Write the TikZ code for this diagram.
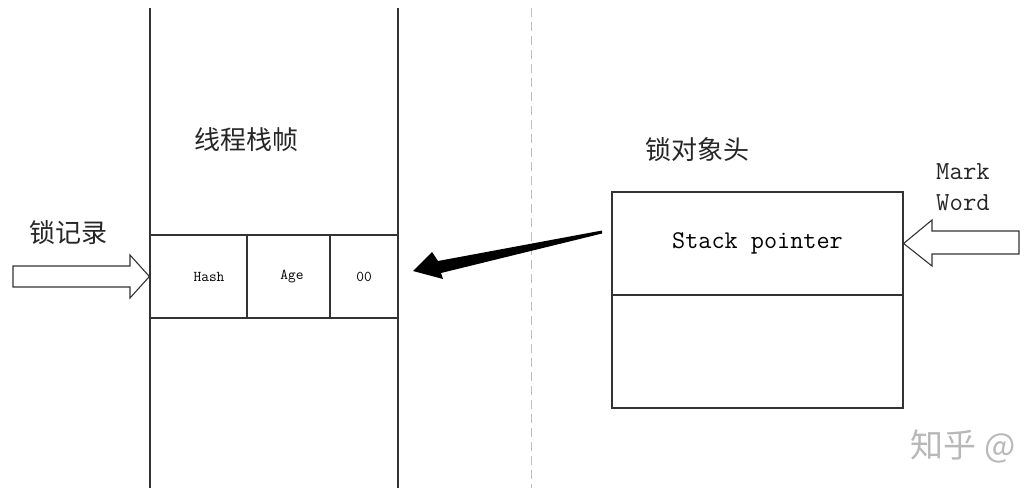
\documentclass[tikz,border=0pt]{standalone}
\usepackage{fontspec}
\newfontfamily\cjk{Noto Sans CJK SC}
\tikzset{
  ln/.style={draw=black!80, line width=1.2pt},
  cell/.style={ln, rectangle, inner sep=0pt, anchor=center, font=\ttfamily\fontsize{15}{17}\selectfont},
  bigbox/.style={ln, rectangle, inner sep=0pt, anchor=center, font=\ttfamily\fontsize{25.5}{27}\selectfont},
  cjklabel/.style={font=\cjk\fontsize{26}{28}\selectfont, text=black!85, inner sep=0pt},
  monolabel/.style={font=\ttfamily\fontsize{26}{28}\selectfont, text=black!85, inner sep=0pt, align=center},
  hollow/.style={draw=black!80, line width=1.1pt, fill=white, line join=miter},
}
\begin{document}
\begin{tikzpicture}[x=1pt,y=-1pt]
\useasboundingbox (0,0) rectangle (1027,488);
% thread stack frame column
\draw[ln] (150,8) -- (150,488);
\draw[ln] (398,8) -- (398,488);
\node[cjklabel] (frame) at (246,140) {线程栈帧};
% lock record cells
\node[cell, minimum width=97pt, minimum height=83pt] (hash) at (198.5,276.5) {\hspace*{21pt}Hash};
\node[cell, minimum width=83pt, minimum height=83pt] (age) at (288.5,276.5) {\hspace*{7pt}Age};
\node[cell, minimum width=68pt, minimum height=83pt] (zz) at (364,276.5) {00};
\node[cjklabel] (lockrec) at (68,233) {锁记录};
% dashed separator
\draw[draw=black!25, line width=1pt, dash pattern=on 9pt off 5pt] (531,8) -- (531,488);
% object header
\node[cjklabel] (objhead) at (697,150) {锁对象头};
\node[bigbox, minimum width=291pt, minimum height=103pt] (sp) at (757.5,243.5) {Stack pointer};
\node[ln, rectangle, inner sep=0pt, minimum width=291pt, minimum height=113pt] (low) at (757.5,351.5) {};
\node[monolabel] (mark) at (963,172) {Mark};
\node[monolabel] (word) at (963,203) {Word};
% hollow arrow into lock record
\coordinate (la) at (13,276.5);
\draw[hollow] (la) ++(0,-10.5) -- (130,266) -- (130,255) -- (hash.west) -- (130,298) -- (130,287) -- (13,287) -- cycle;
% hollow arrow into mark word
\coordinate (ra) at (1019,242.5);
\draw[hollow] (ra) ++(0,-11.5) -- (932,231) -- (932,220) -- (sp.east) -- (932,266) -- (932,254) -- (1019,254) -- cycle;
% black tapered pointer arrow
\coordinate (ps) at (602,232);
\coordinate (pt) at (413,271);
\fill[black] (602,230.5) -- (438,261) -- (432,252) -- (pt) -- (443,279) -- (441,273) -- (602,233.5) -- cycle;
% watermark
\node[font=\cjk\fontsize{33}{35}\selectfont, text=black!28, inner sep=0pt] (wm) at (963,446) {知乎 @};
\end{tikzpicture}
\end{document}
